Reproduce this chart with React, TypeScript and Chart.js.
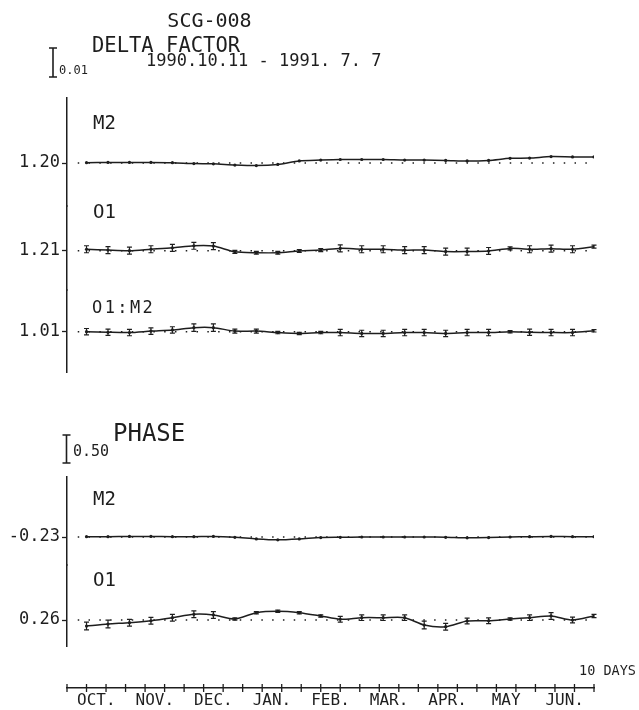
import React, { useEffect, useRef } from "react";
import { Chart, registerables } from "chart.js";

Chart.register(...registerables);

// Days since 1990-10-01 of each analysis window
const sampleDay = [10, 21, 32, 43, 54, 65, 75, 86, 97, 108, 119, 130, 140, 151, 162, 173, 183, 194, 205, 216, 227, 237, 248, 259, 270];
const monthLabels = ["OCT.", "NOV.", "DEC.", "JAN.", "FEB.", "MAR.", "APR.", "MAY", "JUN."];

const deltaRefs = [1.2, 1.21, 1.01];
const phaseRefs = [-0.23, 0.26];

const deltaM2 = [1.2001, 1.2002, 1.2002, 1.2002, 1.2001, 1.1998, 1.1997, 1.1993, 1.1991, 1.1995, 1.2007, 1.201, 1.2012, 1.2012, 1.2012, 1.201, 1.201, 1.2009, 1.2007, 1.2009, 1.2016, 1.2017, 1.2022, 1.2021, 1.2021];
const deltaM2Err = [0.0002, 0.0002, 0.0002, 0.0002, 0.0002, 0.0002, 0.0002, 0.0002, 0.0002, 0.0002, 0.0002, 0.0002, 0.0002, 0.0002, 0.0002, 0.0002, 0.0002, 0.0002, 0.0002, 0.0002, 0.0002, 0.0002, 0.0002, 0.0002, 0.0002];

const deltaO1 = [1.2105, 1.2102, 1.21, 1.2105, 1.211, 1.2117, 1.2116, 1.2096, 1.2093, 1.2093, 1.2099, 1.2102, 1.2108, 1.2105, 1.2105, 1.2102, 1.2102, 1.2097, 1.2097, 1.2099, 1.2108, 1.2105, 1.2107, 1.2105, 1.2114];
const deltaO1Err = [0.0012, 0.0012, 0.0012, 0.0012, 0.0012, 0.0012, 0.0012, 0.0005, 0.0005, 0.0005, 0.0005, 0.0005, 0.0012, 0.0012, 0.0012, 0.0012, 0.0012, 0.0012, 0.0012, 0.0012, 0.0005, 0.0012, 0.0012, 0.0012, 0.0005];

const deltaRatio = [1.01, 1.0098, 1.0097, 1.0102, 1.0106, 1.0114, 1.0114, 1.0102, 1.0102, 1.0097, 1.0094, 1.0097, 1.0097, 1.0094, 1.0094, 1.0097, 1.0097, 1.0094, 1.0097, 1.0097, 1.01, 1.0098, 1.0097, 1.0097, 1.0103];
const deltaRatioErr = [0.0011, 0.0011, 0.0011, 0.0011, 0.0011, 0.0013, 0.0013, 0.0007, 0.0007, 0.0004, 0.0004, 0.0004, 0.0011, 0.0011, 0.0011, 0.0011, 0.0011, 0.0011, 0.0011, 0.0011, 0.0004, 0.0011, 0.0011, 0.0011, 0.0004];

const phaseM2 = [-0.225, -0.225, -0.22, -0.22, -0.225, -0.225, -0.22, -0.235, -0.265, -0.28, -0.265, -0.24, -0.235, -0.23, -0.23, -0.23, -0.23, -0.235, -0.245, -0.24, -0.23, -0.225, -0.22, -0.225, -0.225];
const phaseM2Err = [0.01, 0.01, 0.01, 0.01, 0.01, 0.01, 0.01, 0.01, 0.01, 0.01, 0.01, 0.01, 0.01, 0.01, 0.01, 0.01, 0.01, 0.01, 0.01, 0.01, 0.01, 0.01, 0.01, 0.01, 0.01];

const phaseO1 = [0.152, 0.188, 0.212, 0.247, 0.301, 0.362, 0.35, 0.278, 0.391, 0.416, 0.391, 0.332, 0.273, 0.301, 0.301, 0.301, 0.17, 0.14, 0.242, 0.247, 0.278, 0.301, 0.332, 0.26, 0.332];
const phaseO1Err = [0.07, 0.07, 0.06, 0.06, 0.06, 0.06, 0.06, 0.02, 0.02, 0.02, 0.02, 0.02, 0.05, 0.05, 0.05, 0.05, 0.07, 0.06, 0.05, 0.05, 0.02, 0.05, 0.06, 0.05, 0.03];

const deltaScaleBar = 0.01;
const phaseScaleBar = 0.5;

const INK = "#1e1e1e";
const FONT = '"DejaVu Sans Mono", monospace';

const DELTA_PPU = 2900; // pixels per unit of delta factor
const PHASE_PPU = 56; // pixels per degree

type Band = { id: string; top: number; bottom: number; ref?: number; refY?: number; ppu?: number };
const bands: Band[] = [
  { id: "dM2", top: 98, bottom: 206, ref: deltaRefs[0], refY: 163, ppu: DELTA_PPU },
  { id: "dO1", top: 206, bottom: 290, ref: deltaRefs[1], refY: 250.7, ppu: DELTA_PPU },
  { id: "dR", top: 290, bottom: 372, ref: deltaRefs[2], refY: 331.7, ppu: DELTA_PPU },
  { id: "gap1", top: 372, bottom: 477 },
  { id: "pM2", top: 477, bottom: 565, ref: phaseRefs[0], refY: 537, ppu: PHASE_PPU },
  { id: "pO1", top: 565, bottom: 646, ref: phaseRefs[1], refY: 620, ppu: PHASE_PPU },
  { id: "gap2", top: 646, bottom: 688 },
];

const series = [
  { axis: "dM2", values: deltaM2, errors: deltaM2Err, ref: deltaRefs[0] },
  { axis: "dO1", values: deltaO1, errors: deltaO1Err, ref: deltaRefs[1] },
  { axis: "dR", values: deltaRatio, errors: deltaRatioErr, ref: deltaRefs[2] },
  { axis: "pM2", values: phaseM2, errors: phaseM2Err, ref: phaseRefs[0] },
  { axis: "pO1", values: phaseO1, errors: phaseO1Err, ref: phaseRefs[1] },
];

function text(ctx: CanvasRenderingContext2D, s: string, x: number, y: number, size: number, align: CanvasTextAlign = "left", spacing = 0) {
  ctx.save();
  ctx.font = `${size}px ${FONT}`;
  ctx.fillStyle = INK;
  ctx.textAlign = align;
  ctx.textBaseline = "middle";
  (ctx as any).letterSpacing = `${spacing}px`;
  ctx.fillText(s, x, y);
  ctx.restore();
}

function iBar(ctx: CanvasRenderingContext2D, x: number, yBottom: number, h: number) {
  ctx.save();
  ctx.strokeStyle = INK;
  ctx.lineWidth = 1.6;
  ctx.beginPath();
  ctx.moveTo(x, yBottom);
  ctx.lineTo(x, yBottom - h);
  ctx.moveTo(x - 4, yBottom);
  ctx.lineTo(x + 4, yBottom);
  ctx.moveTo(x - 4, yBottom - h);
  ctx.lineTo(x + 4, yBottom - h);
  ctx.stroke();
  ctx.restore();
}

const overlay = {
  id: "overlay",
  afterDatasetsDraw(chart: any) {
    const ctx: CanvasRenderingContext2D = chart.ctx;
    chart.data.datasets.forEach((ds: any, i: number) => {
      if (!ds.errors) return;
      const meta = chart.getDatasetMeta(i);
      const sc = chart.scales[ds.yAxisID];
      ctx.save();
      ctx.strokeStyle = INK;
      ctx.lineWidth = 1.2;
      ds.data.forEach((p: any, j: number) => {
        const e = ds.errors[j];
        const x = meta.data[j].x;
        const y1 = sc.getPixelForValue(p.y + e);
        const y2 = sc.getPixelForValue(p.y - e);
        if (Math.abs(y2 - y1) < 2) return;
        ctx.beginPath();
        ctx.moveTo(x, y1);
        ctx.lineTo(x, y2);
        ctx.moveTo(x - 2.5, y1);
        ctx.lineTo(x + 2.5, y1);
        ctx.moveTo(x - 2.5, y2);
        ctx.lineTo(x + 2.5, y2);
        ctx.stroke();
      });
      ctx.restore();
    });
  },
  afterDraw(chart: any) {
    const ctx: CanvasRenderingContext2D = chart.ctx;
    const xs = chart.scales.x;
    const yb = chart.chartArea.bottom;
    ctx.save();
    ctx.strokeStyle = INK;
    ctx.lineWidth = 1.3;
    ctx.beginPath();
    for (let d = 0; d <= 270; d += 10) {
      const px = xs.getPixelForValue(d);
      ctx.moveTo(px, yb - 4);
      ctx.lineTo(px, yb + 4);
    }
    ctx.stroke();
    ctx.restore();

    text(ctx, "SCG-008", 209.5, 22, 20, "center");
    text(ctx, "DELTA FACTOR", 92, 47, 20.5);
    text(ctx, "1990.10.11 - 1991. 7. 7", 146, 62, 17);

    const dS = chart.scales.dM2;
    const hD = Math.abs(dS.getPixelForValue(deltaRefs[0]) - dS.getPixelForValue(deltaRefs[0] + deltaScaleBar));
    iBar(ctx, 53, 77, hD);
    text(ctx, deltaScaleBar.toFixed(2), 59, 71, 12);

    const pS = chart.scales.pM2;
    const hP = Math.abs(pS.getPixelForValue(phaseRefs[0]) - pS.getPixelForValue(phaseRefs[0] + phaseScaleBar));
    iBar(ctx, 66.5, 463, hP);
    text(ctx, phaseScaleBar.toFixed(2), 73, 452, 15);
    text(ctx, "PHASE", 113, 435, 24);

    text(ctx, "M2", 93, 124, 19);
    text(ctx, "O1", 93, 213, 19);
    text(ctx, "O1:M2", 92, 309, 17, "left", 2.4);
    text(ctx, "M2", 93, 500, 19);
    text(ctx, "O1", 93, 581, 19);

    text(ctx, "10 DAYS", 636, 671, 13.5, "right");
  },
};

export default function App() {
  const ref = useRef<HTMLCanvasElement>(null);
  useEffect(() => {
    if (!ref.current) return;
    const scales: any = {
      x: {
        type: "linear",
        position: "bottom",
        min: 0,
        max: 270,
        afterBuildTicks: (s: any) => {
          s.ticks = monthLabels.map((_, i) => ({ value: 15 + 30 * i }));
        },
        afterFit: (s: any) => {
          s.height = 22;
        },
        ticks: {
          callback: (_v: any, i: number) => monthLabels[i],
          font: { family: FONT, size: 16 },
          color: INK,
          padding: -5,
          maxRotation: 0,
          autoSkip: false,
        },
        grid: { display: false },
        border: { display: true, color: INK, width: 1.5 },
      },
    };
    bands.forEach((b, i) => {
      const gap = b.ref === undefined;
      scales[b.id] = {
        type: "linear",
        position: "left",
        stack: "main",
        stackWeight: b.bottom - b.top,
        weight: bands.length - i,
        min: gap ? 0 : b.ref! - (b.bottom - b.refY!) / b.ppu!,
        max: gap ? 1 : b.ref! + (b.refY! - b.top) / b.ppu!,
        afterBuildTicks: (s: any) => {
          s.ticks = [{ value: gap ? 0.5 : b.ref }];
        },
        afterFit: (s: any) => {
          s.width = 67;
        },
        ticks: {
          display: !gap,
          callback: (v: any) => Number(v).toFixed(2),
          font: { family: FONT, size: 17 },
          color: INK,
          padding: 2,
        },
        grid: { display: !gap, drawOnChartArea: false, tickLength: 5, tickColor: INK, tickWidth: 1.3 },
        border: { display: !gap, color: INK, width: 1.5 },
      };
    });

    const datasets: any[] = [];
    series.forEach((s) => {
      datasets.push({
        data: sampleDay.map((d, i) => ({ x: d, y: s.values[i] })),
        errors: s.errors,
        yAxisID: s.axis,
        borderColor: INK,
        backgroundColor: INK,
        borderWidth: 1.5,
        pointRadius: 1.6,
        pointBackgroundColor: INK,
        pointBorderWidth: 0,
        tension: 0.25,
      });
    });
    series.forEach((s) => {
      datasets.push({
        data: [
          { x: 5.5, y: s.ref },
          { x: 270, y: s.ref },
        ],
        yAxisID: s.axis,
        borderColor: INK,
        borderWidth: 1.5,
        borderDash: [1.5, 9.3],
        pointRadius: 0,
      });
    });

    const chart = new Chart(ref.current, {
      type: "line",
      data: { datasets },
      options: {
        responsive: false,
        animation: false,
        devicePixelRatio: 1,
        layout: { padding: { top: 98, right: 45, bottom: 0, left: 0 } },
        plugins: { legend: { display: false }, tooltip: { enabled: false }, title: { display: false } },
        scales,
      } as any,
      plugins: [overlay],
    });
    return () => chart.destroy();
  }, []);

  return (
    <div style={{ position: "absolute", left: 0, top: 0, width: 639, height: 710, background: "#fff" }}>
      <canvas ref={ref} width={639} height={710} style={{ display: "block" }} />
    </div>
  );
}
